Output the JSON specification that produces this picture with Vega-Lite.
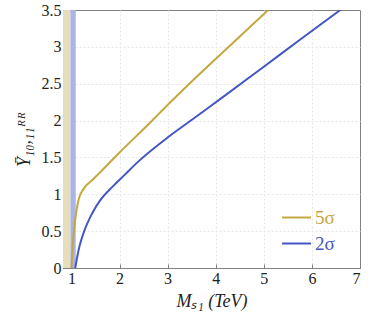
{
  "$schema": "https://vega.github.io/schema/vega-lite/v6.json",
  "width": 297,
  "height": 258,
  "autosize": "none",
  "padding": {"left": 63, "top": 10, "right": 13, "bottom": 48},
  "background": "white",
  "config": {
    "view": {"stroke": "#808080", "strokeWidth": 1},
    "font": "Liberation Serif",
    "axis": {
      "labelFont": "Liberation Serif",
      "titleFont": "Liberation Serif",
      "labelFontSize": 16,
      "titleFontSize": 18,
      "titleFontWeight": "normal",
      "labelColor": "#222",
      "titleColor": "#222",
      "domainColor": "#808080",
      "tickColor": "#808080",
      "grid": true,
      "gridColor": "#e6e6e6",
      "gridDash": [2, 2],
      "tickSize": -4,
      "labelPadding": 6,
      "labelOverlap": false
    }
  },
  "datasets": {
    "bands": [
      {"x0": 0.825, "x1": 0.98, "y0": 0, "y1": 3.5, "band": "tan"},
      {"x0": 0.98, "x1": 1.09, "y0": 0, "y1": 3.5, "band": "blue"}
    ],
    "curves": [
      {"series": "5σ", "m": 1.0, "y": 0},
      {"series": "5σ", "m": 1.03, "y": 0.34},
      {"series": "5σ", "m": 1.08, "y": 0.66},
      {"series": "5σ", "m": 1.15, "y": 0.93},
      {"series": "5σ", "m": 1.26, "y": 1.08},
      {"series": "5σ", "m": 1.43, "y": 1.19},
      {"series": "5σ", "m": 1.57, "y": 1.28},
      {"series": "5σ", "m": 1.99, "y": 1.56},
      {"series": "5σ", "m": 2.68, "y": 2.0},
      {"series": "5σ", "m": 2.89, "y": 2.14},
      {"series": "5σ", "m": 3.67, "y": 2.635},
      {"series": "5σ", "m": 4.4, "y": 3.08},
      {"series": "5σ", "m": 5.09, "y": 3.5},
      {"series": "2σ", "m": 1.08, "y": 0},
      {"series": "2σ", "m": 1.12, "y": 0.15},
      {"series": "2σ", "m": 1.17, "y": 0.3},
      {"series": "2σ", "m": 1.26, "y": 0.49},
      {"series": "2σ", "m": 1.43, "y": 0.74},
      {"series": "2σ", "m": 1.6, "y": 0.92},
      {"series": "2σ", "m": 1.85, "y": 1.1},
      {"series": "2σ", "m": 2.1, "y": 1.26},
      {"series": "2σ", "m": 2.4, "y": 1.45},
      {"series": "2σ", "m": 3.0, "y": 1.77},
      {"series": "2σ", "m": 3.44, "y": 1.98},
      {"series": "2σ", "m": 3.67, "y": 2.09},
      {"series": "2σ", "m": 4.07, "y": 2.28},
      {"series": "2σ", "m": 5.0, "y": 2.73},
      {"series": "2σ", "m": 5.8, "y": 3.12},
      {"series": "2σ", "m": 6.59, "y": 3.5}
    ]
  },
  "layer": [
    {
      "data": {"name": "bands"},
      "mark": {"type": "rect", "clip": true},
      "encoding": {
        "x": {"field": "x0", "type": "quantitative", "scale": {"domain": [0.825, 7], "nice": false},
          "axis": {"values": [1, 2, 3, 4, 5, 6, 7], "title": "Mₛ₁ (TeV)", "titleFontStyle": "italic", "titlePadding": 6,
            "encode": {"labels": {"update": {"font": {"value": "Liberation Serif"}}}, "title": {"update": {"font": {"value": "Liberation Serif"}}}},
            "gridOpacity": {"condition": {"test": "datum.value >= 7", "value": 0}, "value": 1}}},
        "x2": {"field": "x1"},
        "y": {"field": "y0", "type": "quantitative", "scale": {"domain": [0, 3.5], "nice": false},
          "axis": {"values": [0, 0.5, 1, 1.5, 2, 2.5, 3, 3.5], "format": "~g", "title": "Ȳ₁₀,₁₁ᴿᴿ", "titleFontStyle": "italic", "titlePadding": 8,
            "encode": {"labels": {"update": {"font": {"value": "Liberation Serif"}}}, "title": {"update": {"font": {"value": "Liberation Serif"}}}},
            "gridOpacity": {"condition": {"test": "datum.value >= 3.5 || datum.value <= 0", "value": 0}, "value": 1}}},
        "y2": {"field": "y1"},
        "fill": {"field": "band", "type": "nominal", "scale": {"domain": ["tan", "blue"], "range": ["#E6DEBA", "#A9B4E8"]}, "legend": null}
      }
    },
    {
      "data": {"name": "curves"},
      "mark": {"type": "line", "strokeWidth": 2, "clip": true, "interpolate": "monotone"},
      "encoding": {
        "x": {
          "field": "m", "type": "quantitative",
          "scale": {"domain": [0.825, 7], "nice": false},
          "axis": {"values": [1, 2, 3, 4, 5, 6, 7], "title": "Mₛ₁ (TeV)", "titleFontStyle": "italic", "titlePadding": 6,
            "encode": {"labels": {"update": {"font": {"value": "Liberation Serif"}}}, "title": {"update": {"font": {"value": "Liberation Serif"}}}},
            "gridOpacity": {"condition": {"test": "datum.value >= 7", "value": 0}, "value": 1}}
        },
        "y": {
          "field": "y", "type": "quantitative",
          "scale": {"domain": [0, 3.5], "nice": false},
          "axis": {"values": [0, 0.5, 1, 1.5, 2, 2.5, 3, 3.5], "format": "~g", "title": "Ȳ₁₀,₁₁ᴿᴿ", "titleFontStyle": "italic", "titlePadding": 8,
            "encode": {"labels": {"update": {"font": {"value": "Liberation Serif"}}}, "title": {"update": {"font": {"value": "Liberation Serif"}}}},
            "gridOpacity": {"condition": {"test": "datum.value >= 3.5 || datum.value <= 0", "value": 0}, "value": 1}}
        },
        "stroke": {
          "field": "series", "type": "nominal",
          "scale": {"domain": ["5σ", "2σ"], "range": ["#C4A83F", "#4356C4"]},
          "legend": {
            "orient": "none", "legendX": 218, "legendY": 192,
            "title": null, "symbolType": "stroke", "symbolStrokeWidth": 2, "symbolSize": 841,
            "labelFont": "Liberation Serif", "labelFontSize": 19, "rowPadding": -13, "labelOffset": 3,
            "encode": {"labels": {"update": {"fill": {"scale": "stroke", "field": "value"}}}}
          }
        }
      }
    }
  ]
}
